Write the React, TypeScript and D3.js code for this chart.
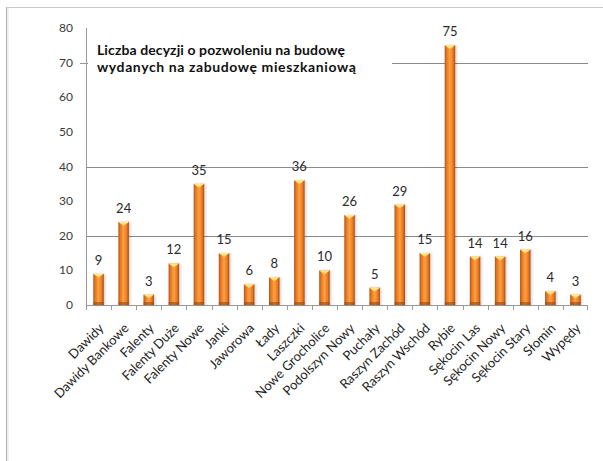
import React, { useEffect } from "react";
import * as d3 from "d3";

const categories = [
  "Dawidy", "Dawidy Bankowe", "Falenty", "Falenty Duże", "Falenty Nowe", "Janki",
  "Jaworowa", "Łady", "Laszczki", "Nowe Grocholice", "Podolszyn Nowy", "Puchały",
  "Raszyn Zachód", "Raszyn Wschód", "Rybie", "Sękocin Las", "Sękocin Nowy",
  "Sękocin Stary", "Słomin", "Wypędy",
];
const values = [9, 24, 3, 12, 35, 15, 6, 8, 36, 10, 26, 5, 29, 15, 75, 14, 14, 16, 4, 3];
const yTicks = [0, 10, 20, 30, 40, 50, 60, 70, 80];
const gridValues = [20, 40, 70];
const titleLines = ["Liczba decyzji o pozwoleniu na budowę", "wydanych na zabudowę mieszkaniową"];

const W = 603, H = 461;
const left = 86, right = 588, top = 28, bottom = 305;

export default function App() {
  useEffect(() => {
    document.body.style.margin = "0";
  }, []);
  const x = d3.scaleBand<string>().domain(categories).range([left, right]).padding(0);
  const y = d3.scaleLinear().domain([0, 80]).range([bottom, top]);
  const bw = 10.5;
  const font = "Lato, 'Open Sans', sans-serif";
  return (
    <svg width={W} height={H} style={{ display: "block", background: "#fff" }}>
      <defs>
        <linearGradient id="barG" x1="0" x2="1" y1="0" y2="0">
          <stop offset="0%" stopColor="#B0521A" />
          <stop offset="18%" stopColor="#E47821" />
          <stop offset="50%" stopColor="#FFA040" />
          <stop offset="80%" stopColor="#EA7A20" />
          <stop offset="100%" stopColor="#A24A14" />
        </linearGradient>
        <linearGradient id="capG" x1="0" x2="0" y1="0" y2="1">
          <stop offset="0%" stopColor="#FFF3A0" />
          <stop offset="100%" stopColor="#FFC850" />
        </linearGradient>
        <filter id="sh" x="-50%" y="-10%" width="200%" height="120%">
          <feDropShadow dx="1.5" dy="0" stdDeviation="1" floodColor="#000" floodOpacity="0.18" />
        </filter>
      </defs>
      {/* frame */}
      <line x1={6} x2={W} y1={7.5} y2={7.5} stroke="#c8c8c8" strokeWidth={1} />
      <line x1={6.5} x2={6.5} y1={7} y2={H} stroke="#b0b0b0" strokeWidth={1} />
      <line x1={8} x2={8} y1={7} y2={H} stroke="#e0e0e0" strokeWidth={1} />
      {/* gridlines */}
      {gridValues.map((v) => (
        <line key={v} x1={left} x2={right} y1={Math.round(y(v)) + 0.5} y2={Math.round(y(v)) + 0.5} stroke="#8a8a8a" strokeWidth={1} />
      ))}
      {/* y axis */}
      <line x1={left + 0.5} x2={left + 0.5} y1={top} y2={bottom} stroke="#9a9a9a" />
      <line x1={left - 6} x2={left} y1={Math.round(y(70)) + 0.5} y2={Math.round(y(70)) + 0.5} stroke="#9a9a9a" />
      {yTicks.map((t) => (
        <text key={t} x={73} y={y(t) + 4} textAnchor="end" fontFamily={font} fontSize={12} fill="#3a3a3a">
          {t}
        </text>
      ))}
      {/* x axis */}
      <line x1={left} x2={right} y1={bottom + 0.5} y2={bottom + 0.5} stroke="#9a9a9a" />
      {categories.map((c) => (
        <line key={"t" + c} x1={Math.round(x(c)!) + 0.5} x2={Math.round(x(c)!) + 0.5} y1={bottom} y2={bottom + 5} stroke="#9a9a9a" />
      ))}
      <line x1={right - 0.5} x2={right - 0.5} y1={bottom} y2={bottom + 5} stroke="#9a9a9a" />
      {/* title box */}
      <rect x={88} y={36} width={304} height={46} fill="#fff" />
      {titleLines.map((l, i) => (
        <text key={i} x={97} y={55 + i * 17} fontFamily={font} fontWeight={700} fontSize={14} fill="#111" letterSpacing={i === 1 ? 0.6 : 0.1}>
          {l}
        </text>
      ))}
      {/* bars */}
      {categories.map((c, i) => {
        const cx = x(c)! + x.bandwidth() / 2;
        const x0 = cx - bw / 2;
        const y0 = y(values[i]);
        const h = bottom - y0;
        return (
          <g key={"b" + c}>
            <rect x={x0} y={y0} width={bw} height={h} fill="url(#barG)" filter="url(#sh)" />
            <rect x={x0} y={bottom - 3} width={bw} height={3} fill="#8E4312" opacity={0.55} />
            <polygon points={`${x0},${y0} ${x0 + bw},${y0} ${cx},${y0 + 4}`} fill="url(#capG)" />
            <text x={cx} y={y0 - 9} textAnchor="middle" fontFamily={font} fontSize={13} fill="#2a2a2a">
              {values[i]}
            </text>
          </g>
        );
      })}
      {/* category labels */}
      {categories.map((c) => {
        const cx = x(c)! + x.bandwidth() / 2 + 6;
        const ty = 329;
        return (
          <text key={"l" + c} x={cx} y={ty} textAnchor="end" transform={`rotate(-45 ${cx} ${ty})`} fontFamily={font} fontSize={13} fill="#222">
            {c}
          </text>
        );
      })}
    </svg>
  );
}
